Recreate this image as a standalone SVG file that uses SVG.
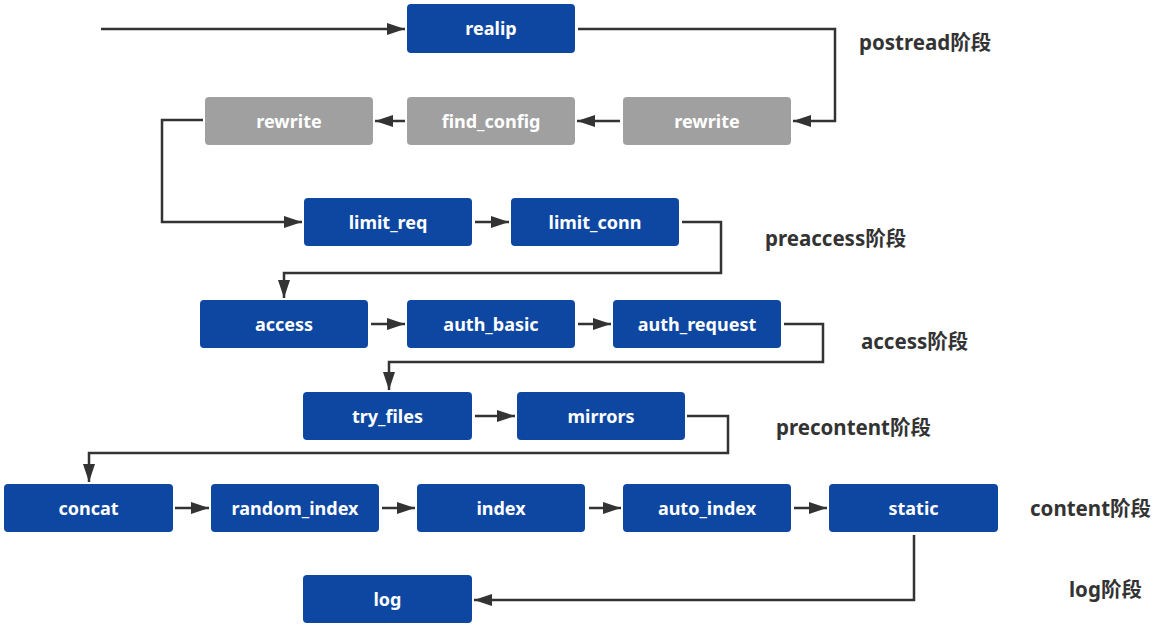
<svg xmlns="http://www.w3.org/2000/svg" width="1154" height="628" viewBox="0 0 1154 628">
<style>
.b{fill:#0E47A1}
.g{fill:#A0A0A0}
.t{fill:#fff;font-family:"Noto Sans","Noto Sans CJK SC",sans-serif;font-weight:bold;font-size:18px;text-anchor:middle;dominant-baseline:central}
.lbl{fill:#333;font-family:"Noto Sans","Noto Sans CJK SC",sans-serif;font-weight:bold;font-size:20.5px;dominant-baseline:central}
.c{fill:none;stroke:#333;stroke-width:2.5;marker-end:url(#ah)}
</style>
<defs>
<marker id="ah" markerUnits="userSpaceOnUse" markerWidth="18" markerHeight="12" refX="18" refY="6" orient="auto">
<path d="M0,0 L18,6 L0,12 z" fill="#333"/>
</marker>
</defs>
<rect width="1154" height="628" fill="#fff"/>
<g id="connectors">
<path class="c" d="M101,29 H405"/>
<path class="c" d="M578,29 H835 V121 H793"/>
<path class="c" d="M620,121 H577"/>
<path class="c" d="M405,121 H375"/>
<path class="c" d="M203,120 H162 V222 H302"/>
<path class="c" d="M475,222 H509"/>
<path class="c" d="M682,222 H721 V273 H284 V298"/>
<path class="c" d="M371,324 H405"/>
<path class="c" d="M578,324 H611"/>
<path class="c" d="M784,324 H823 V362 H389 V390"/>
<path class="c" d="M475,416 H515"/>
<path class="c" d="M687,416 H728 V453 H89 V482"/>
<path class="c" d="M175,508 H209"/>
<path class="c" d="M382,508 H415"/>
<path class="c" d="M589,508 H621"/>
<path class="c" d="M794,508 H827"/>
<path class="c" d="M914,535 V600 H474"/>
</g>
<g id="realip"><rect class="b" x="407" y="4" width="168" height="49" rx="4"/><text class="t" x="491" y="28">realip</text></g>
<g id="rewrite1"><rect class="g" x="623" y="97" width="168" height="48" rx="4"/><text class="t" x="707" y="120.5">rewrite</text></g>
<g id="find_config"><rect class="g" x="407" y="97" width="168" height="48" rx="4"/><text class="t" x="491" y="120.5">find_config</text></g>
<g id="rewrite2"><rect class="g" x="205" y="97" width="168" height="48" rx="4"/><text class="t" x="289" y="120.5">rewrite</text></g>
<g id="limit_req"><rect class="b" x="304" y="198" width="168" height="48" rx="4"/><text class="t" x="388" y="221.5">limit_req</text></g>
<g id="limit_conn"><rect class="b" x="511" y="198" width="168" height="48" rx="4"/><text class="t" x="595" y="221.5">limit_conn</text></g>
<g id="access"><rect class="b" x="200" y="300" width="168" height="48" rx="4"/><text class="t" x="284" y="323.5">access</text></g>
<g id="auth_basic"><rect class="b" x="407" y="300" width="168" height="48" rx="4"/><text class="t" x="491" y="323.5">auth_basic</text></g>
<g id="auth_request"><rect class="b" x="613" y="300" width="168" height="48" rx="4"/><text class="t" x="697" y="323.5">auth_request</text></g>
<g id="try_files"><rect class="b" x="303" y="392" width="169" height="48" rx="4"/><text class="t" x="387.5" y="415.5">try_files</text></g>
<g id="mirrors"><rect class="b" x="517" y="392" width="168" height="48" rx="4"/><text class="t" x="601" y="415.5">mirrors</text></g>
<g id="concat"><rect class="b" x="4" y="484" width="169" height="48" rx="4"/><text class="t" x="88.5" y="507.5">concat</text></g>
<g id="random_index"><rect class="b" x="211" y="484" width="168" height="48" rx="4"/><text class="t" x="295" y="507.5">random_index</text></g>
<g id="index"><rect class="b" x="417" y="484" width="168" height="48" rx="4"/><text class="t" x="501" y="507.5">index</text></g>
<g id="auto_index"><rect class="b" x="623" y="484" width="168" height="48" rx="4"/><text class="t" x="707" y="507.5">auto_index</text></g>
<g id="static"><rect class="b" x="829" y="484" width="169" height="48" rx="4"/><text class="t" x="913.5" y="507.5">static</text></g>
<g id="log"><rect class="b" x="303" y="575" width="169" height="48" rx="4"/><text class="t" x="387.5" y="598.5">log</text></g>
<g id="labels">
<text class="lbl" x="859" y="42">postread阶段</text>
<text class="lbl" x="765" y="238">preaccess阶段</text>
<text class="lbl" x="861" y="341">access阶段</text>
<text class="lbl" x="776" y="427">precontent阶段</text>
<text class="lbl" x="1030" y="508">content阶段</text>
<text class="lbl" x="1069" y="589">log阶段</text>
</g>
</svg>
